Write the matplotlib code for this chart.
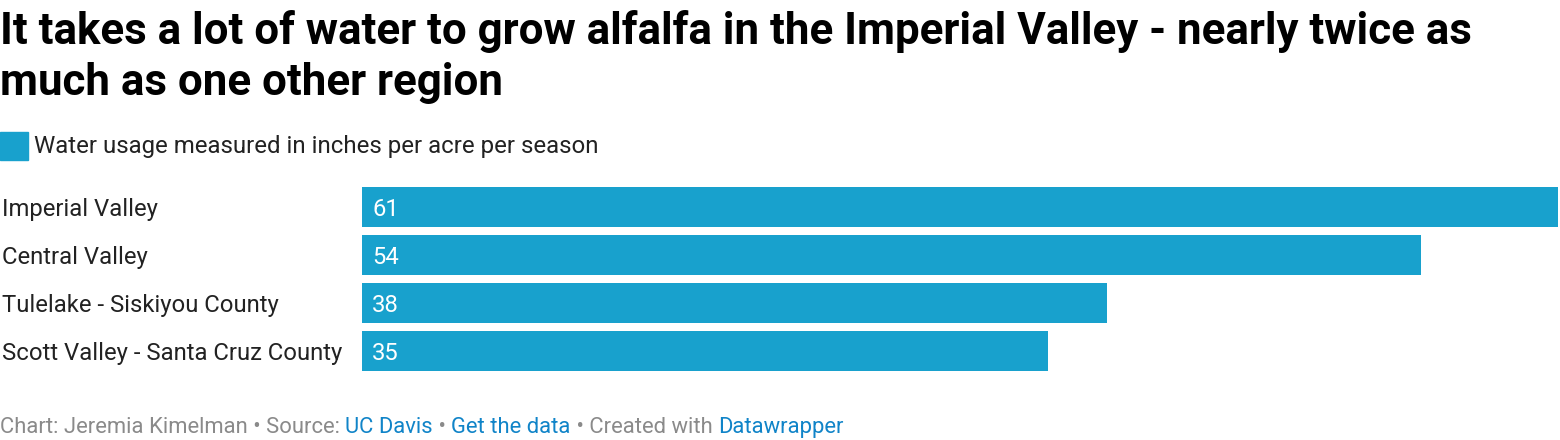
import matplotlib
matplotlib.use("Agg")
import matplotlib.pyplot as plt
import matplotlib.transforms as mtransforms

categories = ["Imperial Valley", "Central Valley", "Tulelake - Siskiyou County", "Scott Valley - Santa Cruz County"]
values = [61, 54, 38, 35]
title_lines = ["It takes a lot of water to grow alfalfa in the Imperial Valley - nearly twice as",
               "much as one other region"]
legend_label = "Water usage measured in inches per acre per season"
footer_parts = [("Chart: Jeremia Kimelman • Source: ", "gray"), ("UC Davis", "link"), (" • ", "gray"),
                ("Get the data", "link"), (" • Created with ", "gray"), ("Datawrapper", "link")]

BAR = "#18a1cd"
GRAY = "#8a8a8a"
LINK = "#1084c8"
W, H = 1560, 440
plt.rcParams['font.family'] = ['Roboto', 'DejaVu Sans']

fig = plt.figure(figsize=(W/100, H/100), dpi=100)

def fx(px): return px / W
def fy(py): return 1 - py / H

for line, base in zip(title_lines, [44, 95]):
    fig.text(fx(0), fy(base), line, fontsize=31.6, fontweight='bold', color='#000000',
             va='baseline', ha='left')
# legend
fig.patches.append(plt.Rectangle((fx(0), fy(160)), fx(28), 28/H, transform=fig.transFigure,
                                 color=BAR, figure=fig))
fig.text(fx(34), fy(147), legend_label, fontsize=17.3, color='#222222', va='center', ha='left')

ax = fig.add_axes([fx(362), fy(375), fx(1558) - fx(362), 192/H])
ys = list(range(len(categories)))
ax.barh(ys, values, height=0.83, color=BAR)
ax.set_xlim(0, 61)
ax.set_ylim(len(categories) - 0.5, -0.5)
ax.axis('off')
lab_tr = mtransforms.blended_transform_factory(fig.transFigure, ax.transData)
val_tr = ax.transData + mtransforms.ScaledTranslation(10/100, 0, fig.dpi_scale_trans)
for y, v, c in zip(ys, values, categories):
    ax.text(0, y, str(v), color='white', fontsize=17.2, va='center_baseline', ha='left',
            transform=val_tr)
    fig.text(fx(2), y, c, fontsize=17.2, color='#222222', va='center_baseline', ha='left',
             transform=lab_tr)

fig.canvas.draw()
r = fig.canvas.get_renderer()
x = 0
for txt, kind in footer_parts:
    t = fig.text(fx(x), fy(427.5), txt, fontsize=15.8, color=GRAY if kind == 'gray' else LINK,
                 va='center', ha='left')
    bb = t.get_window_extent(renderer=r)
    x += bb.width

fig.savefig("out.png", dpi=100)
